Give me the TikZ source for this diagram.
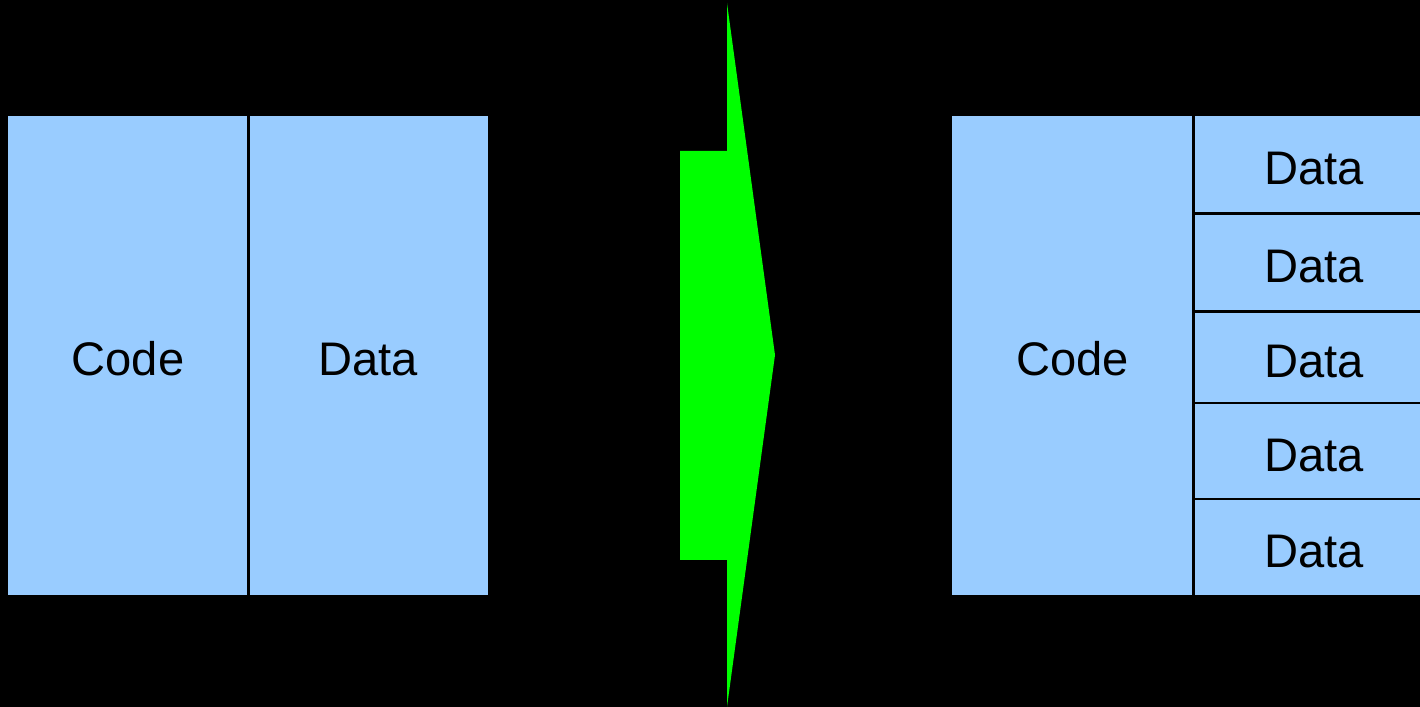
\documentclass[tikz,border=0pt]{standalone}
\usepackage{fontspec}
\setmainfont{Liberation Sans}
\usetikzlibrary{positioning}
\definecolor{paleblue}{HTML}{99CCFF}
\definecolor{brightgreen}{HTML}{00FF00}
\tikzset{box/.style = {fill=paleblue, inner sep=0pt, outer sep=0pt,
                       minimum width=2.4cm, minimum height=4.79cm,
                       text height=0.40cm, text depth=0pt,
                       font=\fontsize{13.4}{15}\selectfont},
         divider/.style = {line width=0.85pt, black}}

\begin{document}
\begin{tikzpicture}[x=0.01cm, y=-0.01cm]
    \clip (0, 0) rectangle (1420, 707);
    \fill [black] (0, 0) rectangle (1420, 707);

    % one piece of code with its data
    \node [box] (codeL) at (128, 355.5) {Code};
    \node [box, right=0cm of codeL] (dataL) {Data};
    \draw [divider] (codeL.north east) -- (codeL.south east);

    % the big arrow
    \fill [brightgreen] (680, 151) -- (727, 151) -- (727, 3) -- (775, 355)
      -- (727, 707) -- (727, 560) -- (680, 560) -- cycle;

    % shared code, many data blocks
    \node [box, minimum width=2.41cm] (codeR) at (1072.5, 355.5) {Code};
    \foreach \n/\y/\h in {1/164.5/0.97, 2/262/0.98, 3/357/0.92, 4/451/0.96, 5/547/0.96} {
      \node [box, minimum width=2.42cm, minimum height=\h cm] (data\n) at (1314, \y) {Data};
    }
    \foreach \n/\w in {1/0.85pt, 2/0.85pt, 3/0.35pt, 4/0.4pt} {
      \draw [line width=\w] (data\n.south west) -- (data\n.south east);
    }
    \draw [divider] (codeR.north east) -- (codeR.south east);
\end{tikzpicture}
\end{document}
